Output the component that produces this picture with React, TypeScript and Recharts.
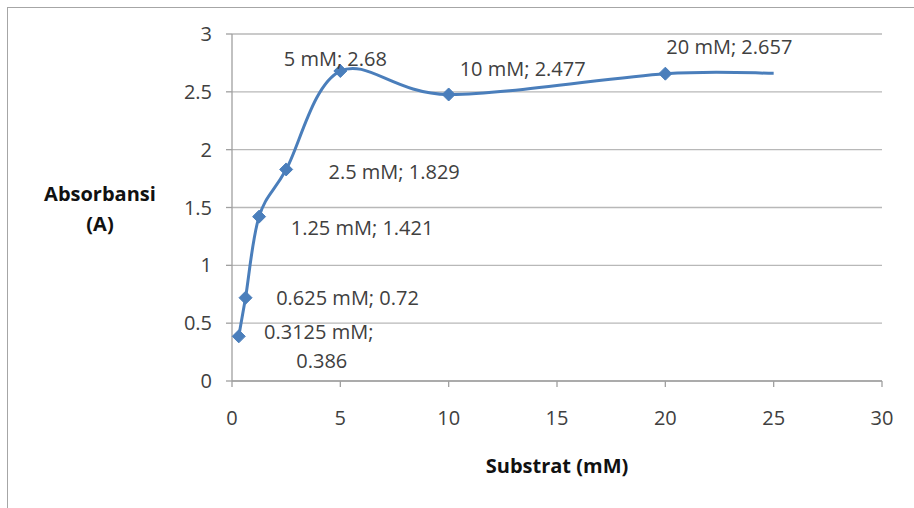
import { LineChart, Line, XAxis, YAxis, CartesianGrid, LabelList } from "recharts";

// substrate concentration (mM) and absorbance
const substrat = [0.3125, 0.625, 1.25, 2.5, 5, 10, 20, 25];
const absorbansi = [0.386, 0.72, 1.421, 1.829, 2.68, 2.477, 2.657, 2.66];
const pointLabels = [
  ["0.3125 mM;", "0.386"],
  ["0.625 mM; 0.72"],
  ["1.25 mM; 1.421"],
  ["2.5 mM; 1.829"],
  ["5 mM; 2.68"],
  ["10 mM; 2.477"],
  ["20 mM; 2.657"],
  [],
];
const xTicks = [0, 5, 10, 15, 20, 25, 30];
const yTicks = [0, 0.5, 1, 1.5, 2, 2.5, 3];

const data = substrat.map((x, i) => ({ x, y: absorbansi[i], i }));

// where each label sits relative to its point (px)
const labelOffsets = [
  [80, -5],
  [102, 0],
  [103, 11],
  [108, 2],
  [-5, -13],
  [74, -26],
  [64, -27],
  [0, 0],
];

const BLUE = "#4a7ebb";
const font = "'Open Sans', 'Liberation Sans', sans-serif";

// excel-like smoothed line (catmull-rom through the points)
function smoothCurve(context: any) {
  let pts: number[][] = [];
  return {
    areaStart() {},
    areaEnd() {},
    lineStart() {
      pts = [];
    },
    point(x: number, y: number) {
      pts.push([x, y]);
    },
    lineEnd() {
      if (!pts.length) return;
      context.moveTo(pts[0][0], pts[0][1]);
      for (let i = 0; i < pts.length - 1; i++) {
        const p0 = pts[Math.max(i - 1, 0)];
        const p1 = pts[i];
        const p2 = pts[i + 1];
        const p3 = pts[Math.min(i + 2, pts.length - 1)];
        context.bezierCurveTo(
          p1[0] + (p2[0] - p0[0]) / 6,
          p1[1] + (p2[1] - p0[1]) / 6,
          p2[0] - (p3[0] - p1[0]) / 6,
          p2[1] - (p3[1] - p1[1]) / 6,
          p2[0],
          p2[1]
        );
      }
    },
  };
}

function Diamond(props: any) {
  const { cx, cy, index } = props;
  if (index === substrat.length - 1 || cx == null) return <g key={index} />;
  const r = 6.5;
  return (
    <path
      key={index}
      d={`M${cx},${cy - r}L${cx + r},${cy}L${cx},${cy + r}L${cx - r},${cy}Z`}
      fill={BLUE}
      stroke={BLUE}
    />
  );
}

function PointLabel(props: any) {
  const { x, y, index } = props;
  const lines = pointLabels[index] || [];
  if (!lines.length) return null;
  const [dx, dy] = labelOffsets[index];
  return (
    <text textAnchor="middle" fontSize={20} fill="#404040" fontFamily={font}>
      {lines.map((t, k) => (
        <tspan
          key={k}
          x={x + dx + (k === 1 ? 3 : 0)}
          y={y + dy + k * 29}
          dominantBaseline="central"
        >
          {t}
        </tspan>
      ))}
    </text>
  );
}

const tickStyle = { fill: "#404040", fontSize: 20, fontFamily: font };

export default function App() {
  return (
    <div
      style={{
        position: "absolute",
        left: 0,
        top: 0,
        width: 914,
        height: 508,
        overflow: "hidden",
        background: "#fff",
        fontFamily: font,
      }}
    >
      <div
        style={{
          position: "absolute",
          left: 7,
          top: 7,
          width: 1000,
          height: 1000,
          border: "1.5px solid #a6a6a6",
        }}
      />
      <LineChart
        width={914}
        height={508}
        data={data}
        margin={{ top: 34, right: 32, bottom: 97, left: 182 }}
        style={{ position: "absolute", left: 0, top: 0 }}
      >
        <CartesianGrid vertical={false} stroke="#b8b8b8" strokeWidth={1.3} />
        <XAxis
          dataKey="x"
          type="number"
          domain={[0, 30]}
          ticks={xTicks}
          stroke="#a0a0a0"
          strokeWidth={1.3}
          tickSize={6}
          tickMargin={24}
          height={30}
          tick={tickStyle}
        />
        <YAxis
          type="number"
          domain={[0, 3]}
          ticks={yTicks}
          stroke="#a0a0a0"
          strokeWidth={1.3}
          tickSize={6}
          tickMargin={14}
          width={50}
          tick={tickStyle}
        />
        <Line
          dataKey="y"
          type={smoothCurve as any}
          stroke={BLUE}
          strokeWidth={3}
          dot={<Diamond />}
          activeDot={false}
          isAnimationActive={false}
        >
          <LabelList dataKey="y" content={<PointLabel />} />
        </Line>
      </LineChart>
      <div
        style={{
          position: "absolute",
          left: 40,
          top: 179,
          width: 120,
          textAlign: "center",
          fontWeight: "bold",
          fontSize: 20,
          lineHeight: "30px",
          color: "#111",
        }}
      >
        Absorbansi
        <br />
        (A)
      </div>
      <div
        style={{
          position: "absolute",
          left: 457,
          top: 452,
          width: 200,
          textAlign: "center",
          fontWeight: "bold",
          fontSize: 20,
          color: "#111",
        }}
      >
        Substrat (mM)
      </div>
    </div>
  );
}
